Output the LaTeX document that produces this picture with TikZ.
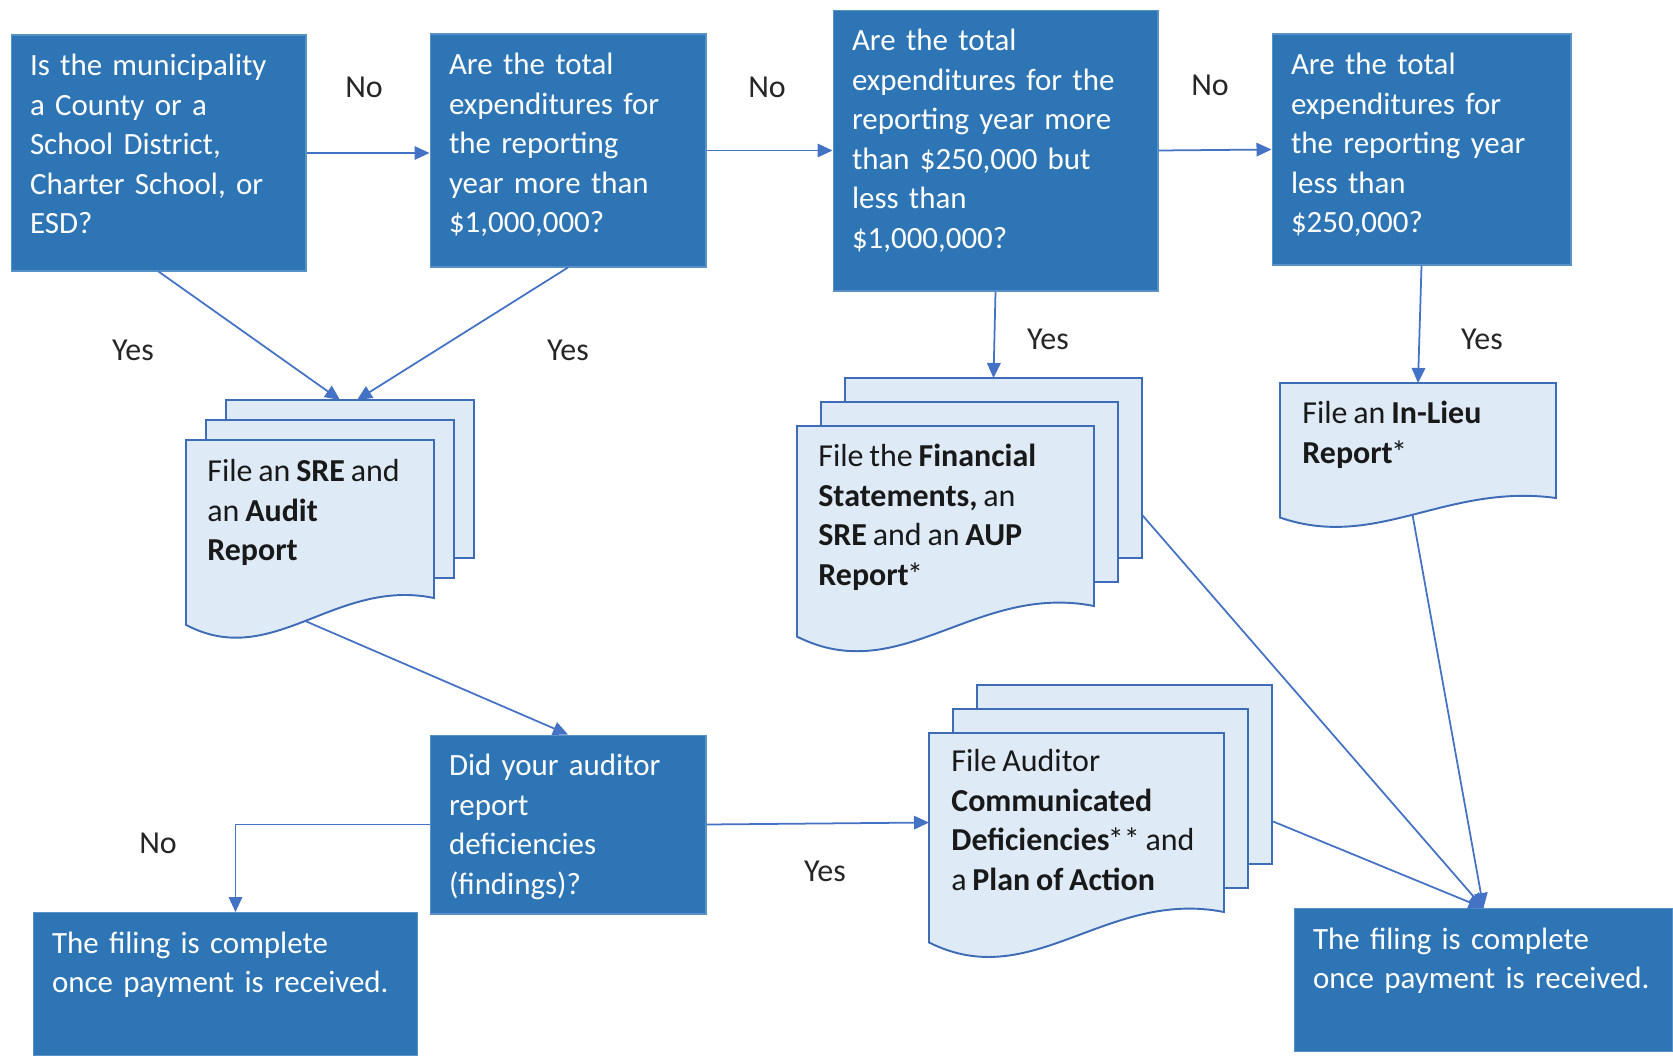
\documentclass[tikz,border=0pt]{standalone}
\usepackage{fontspec}
\setmainfont{Carlito}[WordSpace=0.8]
\usetikzlibrary{arrows.meta}

\definecolor{boxblue}{RGB}{46,117,182}
\definecolor{docfill}{RGB}{222,235,247}
\definecolor{docline}{RGB}{62,108,182}
\definecolor{flowline}{RGB}{68,114,196}

\tikzset{
  question/.style={rectangle, fill=boxblue, draw=boxblue!80!white, line width=0.6pt,
    text=white, align=left, inner xsep=0.38cm, inner ysep=0pt, text height=0.81cm,
    font=\fontsize{17.6}{22.5}\selectfont},
  sheet/.style={fill=docfill, draw=docline, line width=1.1pt},
  doctext/.style={anchor=north west, inner sep=0pt, align=left, text=black!90,
    font=\fontsize{18.2}{22.5}\selectfont},
  answer/.style={text=black!85, font=\fontsize{18.2}{22.5}\selectfont},
  flow/.style={draw=flowline, line width=1pt, -{Triangle[length=0.3cm,width=0.27cm]}},
}

% one sheet with a wavy lower edge: name, left, top, right, bottom of right edge
\newcommand{\wavedoc}[5]{%
  \pgfmathsetmacro\docw{#4-#2}%
  \pgfmathsetmacro\doch{#5-#3}%
  \filldraw[sheet] (#2,#3) -- (#4,#3) -- (#4,#5)
    .. controls ({#2+0.6*\docw},{#5-0.13*\doch}) and ({#2+0.35*\docw},{#5+0.46*\doch}) ..
    (#2,{#5+0.17*\doch}) -- cycle;
  \coordinate (#1-top) at ({(#2+#4)/2},#3);
  \coordinate (#1-bottom) at ({#2+0.48*\docw},{#5+0.145*\doch});
  \coordinate (#1-left) at (#2,{#3+0.5*\doch});
}
% three sheets: name, left, top, right, bottom of right edge, offset
\newcommand{\docstack}[6]{%
  \foreach \k in {2,1}
    \filldraw[sheet] ({#2+\k*#6},{#3-\k*#6}) rectangle ({#4+\k*#6},{#5-\k*#6});
  \wavedoc{#1}{#2}{#3}{#4}{#5}
  \coordinate (#1-top) at ({(#2+#4)/2+2*#6},{#3-2*#6});
  \coordinate (#1-right) at ({#4+2*#6},{#3-2*#6+0.76*(#5-#3)});
}

\begin{document}
\begin{tikzpicture}[x=0.02cm, y=-0.02cm]
\useasboundingbox (0,0) rectangle (1673,1055);

% documents
\docstack{sre}{186}{440}{434}{598}{20}
\docstack{fin}{797}{426}{1094}{606}{24}
\docstack{cdr}{929}{733}{1224}{912}{24}
\wavedoc{lieu}{1280}{383}{1556}{498}

\node[doctext] (sre) at (207,459) {File an \textbf{SRE} and\\an \textbf{Audit}\\\textbf{Report}};
\node[doctext] (fin) at (818,444) {File the \textbf{Financial}\\\textbf{Statements,} an\\\textbf{SRE} and an \textbf{AUP}\\\textbf{Report}\kern-1pt*};
\node[doctext] (cdr) at (951,749) {File Auditor\\\textbf{Communicated}\\\textbf{Deficiencies}\kern-1pt** and\\a \textbf{Plan of Action}};
\node[doctext] (lieu) at (1302,401) {File an \textbf{In-Lieu}\\\textbf{Report}\kern-1pt*};

% questions
\node[question, minimum width=5.9cm, text width=5.14cm, text depth=3.91cm] (q1) at (158.5,153)
  {Is the municipality\\a County or a\\School District,\\Charter School, or\\ESD?};
\node[question, minimum width=5.52cm, text width=4.76cm, text depth=3.85cm] (q2) at (568,150.5)
  {Are the total\\expenditures for\\the reporting\\year more than\\\$1,000,000?};
\node[question, minimum width=6.5cm, text width=5.74cm, text depth=4.81cm] (q3) at (995.5,150.5)
  {Are the total\\expenditures for the\\reporting year more\\than \$250,000 but\\less than\\\$1,000,000?};
\node[question, minimum width=5.98cm, text width=5.22cm, text depth=3.81cm] (q4) at (1421.5,149.5)
  {Are the total\\expenditures for\\the reporting year\\less than\\\$250,000?};
\node[question, minimum width=5.52cm, text width=4.76cm, text depth=2.77cm] (did) at (568,824.5)
  {Did your auditor\\report\\deficiencies\\(findings)?};

% end of filing
\node[question, anchor=north, minimum width=7.7cm, text width=6.94cm, text depth=2.05cm] (done1) at (225.5,912)
  {The filing is complete\\once payment is received.};
\node[question, anchor=north, minimum width=7.58cm, text width=6.82cm, text depth=2.05cm] (done2) at (1483.5,908)
  {The filing is complete\\once payment is received.};

% answers
\node[answer] (no1) at (364,87) {No};
\node[answer] (no2) at (767,87) {No};
\node[answer] (no3) at (1210,85) {No};
\node[answer] (yes1) at (133,350) {Yes};
\node[answer] (yes2) at (568,350) {Yes};
\node[answer] (yes3) at (1048,339) {Yes};
\node[answer] (yes4) at (1482,339) {Yes};
\node[answer] (no4) at (158,843) {No};
\node[answer] (yes5) at (825,871) {Yes};

% connectors
\draw[flow] (q1.east) -- (q1.east -| q2.west);
\draw[flow] (q2.east) -- (q2.east -| q3.west);
\draw[flow] (q3.east) -- (q4.west);
\draw[flow] (q1.south) -- ([xshift=-0.2cm]sre-top);
\draw[flow] (q2.south) -- ([xshift=0.14cm]sre-top);
\draw[flow] (q3.south) -- (fin-top);
\draw[flow] (q4.south) -- (lieu-top);
\draw[flow] (sre-bottom) -- (did.north);
\draw[flow] (did.east) -- (cdr-left);
\draw[flow] (did.west) -| ([xshift=0.2cm]done1.north);
\draw[flow] (fin-right) -- (done2.north);
\draw[flow] (lieu-bottom) -- (done2.north);
\draw[flow] (cdr-right) -- (done2.north);
\end{tikzpicture}
\end{document}
